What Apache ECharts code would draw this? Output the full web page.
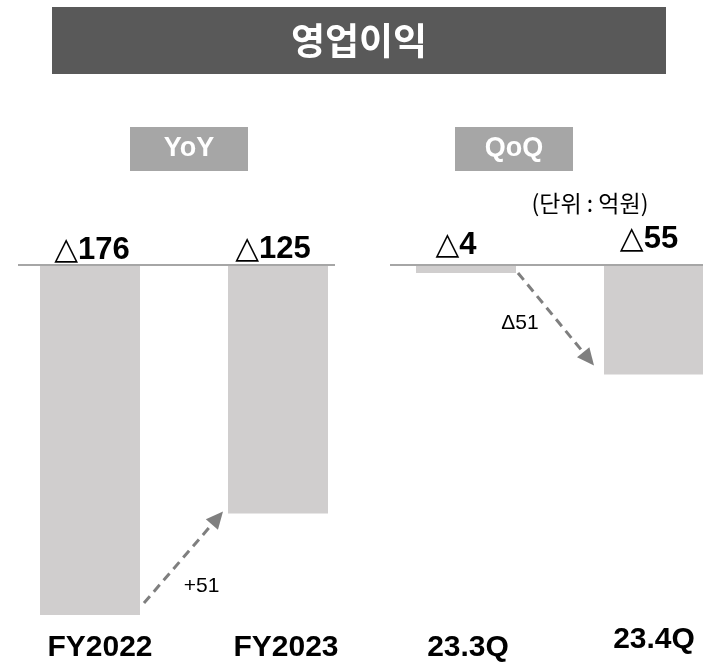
<!DOCTYPE html>
<html><head><meta charset="utf-8">
<script src="https://cdn.jsdelivr.net/npm/echarts@6/dist/echarts.min.js"></script>
<style>html,body{margin:0;padding:0;background:#fff}#c{width:703px;height:663px}</style>
</head><body><div id="c"></div>
<script>
// ---- data ----
const titleText = '영업이익';
const groupLabels = ['YoY', 'QoQ'];
const unitLabel = '(단위 : 억원)';
const categories = ['FY2022', 'FY2023', '23.3Q', '23.4Q'];
const values = [-176, -125, -4, -55];
const valueLabels = ['△176', '△125', '△4', '△55'];
const changePairs = [[0, 1], [2, 3]];
const changeLabels = ['+51', 'Δ51'];

// ---- styles ----
const labelOffsets = [[2, 1], [-5, 0], [-10, -4], [-5, -10]];
const catShift = [[8, 0, 0, 20], [8, 0, 0, 16], [8, 0, 0, 4], [0, 0, 0, 0]];
const FONT = 'Liberation Sans, Arial, sans-serif';
const KFONT = '"Noto Sans CJK KR", sans-serif';

const chart = echarts.init(document.getElementById('c'), null, {renderer: 'canvas'});

const rich = {};
catShift.forEach((p, i) => {
  rich['c' + i] = {fontFamily: FONT, fontWeight: 'bold', fontSize: 30, color: '#000', padding: p};
});

chart.setOption({
  animation: false,
  backgroundColor: '#fff',
  grid: {left: -4, width: 752, top: 265, bottom: 48, containLabel: false, outerBoundsMode: 'none'},
  xAxis: {
    type: 'category', data: categories, position: 'bottom',
    axisLine: {show: false, onZero: false}, axisTick: {show: false},
    axisLabel: {margin: 10, verticalAlign: 'top', formatter: (v, i) => '{c' + i + '|' + v + '}', rich: rich, interval: 0},
    splitLine: {show: false}
  },
  yAxis: {type: 'value', min: -176, max: 0, show: false},
  series: [{
    type: 'bar', barWidth: 100,
    itemStyle: {color: '#d0cece'},
    data: values.map((v, i) => ({
      value: v,
      label: {offset: labelOffsets[i]}
    })),
    label: {
      show: true, position: 'top', distance: 0,
      formatter: p => '{t|' + valueLabels[p.dataIndex].charAt(0) + '}{n|' + valueLabels[p.dataIndex].slice(1) + '}',
      rich: {
        t: {fontFamily: 'DejaVu Sans, sans-serif', fontSize: 31, fontWeight: 'normal', color: '#000'},
        n: {fontFamily: FONT, fontSize: 31, fontWeight: 'bold', color: '#000'}
      }
    }
  }]
});

function px(ci, v) { return chart.convertToPixel({gridIndex: 0}, [ci, v]); }

const half = 50;
const y0 = px(0, 0)[1];
const g = [];

// title banner
g.push({type: 'rect', shape: {x: 52, y: 7, width: 614, height: 67}, style: {fill: '#595959'}, z: 5});
g.push({type: 'text', x: 359, y: 41, style: {text: titleText, fill: '#fff', font: 'bold 37px ' + KFONT, align: 'center', verticalAlign: 'middle'}, z: 6});

// group boxes
const boxes = [[130, 127, 118, 44], [455, 127, 118, 44]];
boxes.forEach((b, i) => {
  g.push({type: 'rect', shape: {x: b[0], y: b[1], width: b[2], height: b[3]}, style: {fill: '#a6a6a6'}, z: 5});
  g.push({type: 'text', x: b[0] + b[2] / 2, y: b[1] + b[3] / 2, style: {text: groupLabels[i], fill: '#fff', font: 'bold 27px ' + FONT, align: 'center', verticalAlign: 'middle'}, z: 6});
});

// unit label
g.push({type: 'text', x: 590, y: 203, style: {text: unitLabel, fill: '#000', font: '23px ' + KFONT, align: 'center', verticalAlign: 'middle'}, z: 6});

// baselines
const b0 = px(0, 0)[0], b1 = px(1, 0)[0], b2 = px(2, 0)[0], b3 = px(3, 0)[0];
g.push({type: 'line', shape: {x1: b0 - half - 22, y1: y0, x2: b1 + half + 7, y2: y0}, style: {stroke: '#a6a6a6', lineWidth: 2}, z: 10});
g.push({type: 'line', shape: {x1: b2 - half - 26, y1: y0, x2: 703, y2: y0}, style: {stroke: '#a6a6a6', lineWidth: 2}, z: 10});

// change arrows
const arrowSpecs = [
  {start: [half + 4, -12], end: [-half - 5, -2], lab: [18, 29]},
  {start: [half + 2, 0], end: [-half - 10, -9], lab: [-36, 4]}
];
changePairs.forEach((pr, k) => {
  const s = arrowSpecs[k];
  const pa = px(pr[0], values[pr[0]]), pb = px(pr[1], values[pr[1]]);
  const x1 = pa[0] + s.start[0], y1 = pa[1] + s.start[1];
  const x2 = pb[0] + s.end[0], y2 = pb[1] + s.end[1];
  const dx = x2 - x1, dy = y2 - y1, L = Math.hypot(dx, dy);
  const ux = dx / L, uy = dy / L;
  const hl = 17, hw = 8;
  const bx = x2 - ux * hl, by = y2 - uy * hl;
  g.push({type: 'line', shape: {x1: x1, y1: y1, x2: bx, y2: by}, style: {stroke: '#7f7f7f', lineWidth: 3, lineDash: [9, 6]}, z: 10});
  g.push({type: 'polygon', shape: {points: [[x2, y2], [bx - uy * hw, by + ux * hw], [bx + uy * hw, by - ux * hw]]}, style: {fill: '#7f7f7f'}, z: 10});
  const mx = (x1 + x2) / 2 + s.lab[0], my = (y1 + y2) / 2 + s.lab[1];
  g.push({type: 'text', x: mx, y: my, style: {text: changeLabels[k], fill: '#000', font: '21px ' + FONT, align: 'center', verticalAlign: 'middle'}, z: 10});
});

chart.setOption({graphic: {elements: g}});
</script></body></html>
